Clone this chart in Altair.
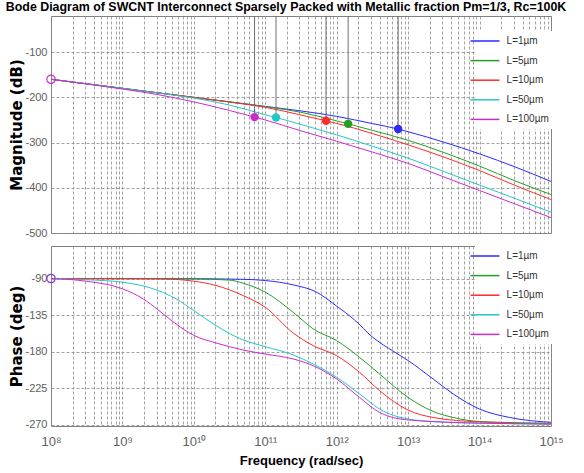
import altair as alt
import pandas as pd

TITLE = "Bode Diagram of SWCNT Interconnect Sparsely Packed with Metallic fraction Pm=1/3, Rc=100K"
series = ["L=1µm", "L=5µm", "L=10µm", "L=50µm", "L=100µm"]
colors = ["#2a2aff", "#23a023", "#ff2b2b", "#25c6c6", "#cc2ccc"]

# ---- Magnitude (dB) vs log10(frequency in rad/s) ----
mag_exp_1 = [8, 9, 10, 11, 11.5, 12, 12.5, 12.86, 13, 13.5, 14, 14.5, 15]
mag_db_1 = [-160, -180, -200, -220, -230, -242, -258, -270, -276, -299, -325, -354, -386]
mag_exp_5 = [8, 9, 10, 10.5, 11, 11.5, 12, 12.16, 12.5, 13, 13.5, 14, 14.5, 15]
mag_db_5 = [-160, -180, -200, -210, -220.5, -233, -252, -258.5, -273, -295, -322, -352, -385, -415]
mag_exp_10 = [8, 9, 10, 10.5, 11, 11.5, 11.85, 12, 12.5, 13, 13.5, 14, 14.5, 15]
mag_db_10 = [-160, -180, -200, -210.5, -222, -239, -251.8, -257.5, -280, -305, -332, -362, -395, -426]
mag_exp_50 = [8, 9, 9.5, 10, 10.5, 11, 11.15, 11.5, 12, 12.5, 13, 13.5, 14, 14.5, 15]
mag_db_50 = [-160, -180, -190.5, -201.5, -217, -238.5, -244.5, -260, -283, -308, -334.5, -364, -394, -424, -454]
mag_exp_100 = [8, 8.5, 9, 9.5, 10, 10.5, 10.85, 11, 11.5, 12, 12.5, 13, 13.5, 14, 14.5, 15]
mag_db_100 = [-160, -170.5, -181.5, -194, -210, -229, -243.6, -250, -274, -297, -321, -346, -376, -406, -436, -466]

# ---- Phase (deg) ----
ph_exp_1 = [8, 10, 10.7, 11, 11.4, 11.7, 12, 12.25, 12.5, 12.8, 13, 13.35, 13.63, 14, 14.42, 15]
ph_deg_1 = [-90, -90.3, -91, -92.5, -98, -106, -124, -141, -162, -180, -191, -213.7, -232, -250.7, -261, -267]
ph_exp_5 = [8, 10, 10.5, 10.69, 11, 11.39, 11.67, 12, 12.32, 12.6, 13, 13.35, 13.63, 14, 15]
ph_deg_5 = [-90, -90.5, -92, -95.8, -106.8, -131.5, -152, -166.5, -187, -207.5, -236.4, -253.6, -261, -266, -268]
ph_exp_10 = [8, 9.5, 10, 10.31, 10.69, 11, 11.39, 11.67, 12, 12.32, 12.6, 13, 13.35, 14, 15]
ph_deg_10 = [-90, -90.3, -93.3, -98.6, -111, -125.4, -157, -172.6, -185, -205.5, -228, -252, -261, -266.5, -269]
ph_exp_50 = [8, 8.5, 9, 9.5, 9.75, 10, 10.31, 10.69, 11, 11.39, 11.67, 12, 12.32, 12.6, 13, 13.35, 14, 15]
ph_deg_50 = [-90, -91.5, -94.5, -104.8, -115, -129.5, -148, -165.6, -173.8, -184, -195.2, -211.7, -232, -250.7, -263, -266, -268, -269]
ph_exp_100 = [8, 8.49, 9, 9.29, 9.5, 9.75, 10, 10.31, 10.69, 11, 11.39, 11.67, 12, 12.32, 12.6, 13, 14, 15]
ph_deg_100 = [-90, -93.3, -102.7, -115, -128.6, -145.9, -160, -169.3, -178, -183, -189, -197.3, -213.7, -236.4, -254.8, -264, -268, -269]

# ---- data-tip markers on magnitude plot ----
mark_series = ["L=100µm", "L=50µm", "L=10µm", "L=5µm", "L=1µm"]
mark_exp = [10.85, 11.15, 11.85, 12.16, 12.86]
mark_db = [-243.6, -244.5, -251.8, -258.5, -270]
mark_colors = ["#cc2ccc", "#25c6c6", "#ff2b2b", "#23a023", "#2a2aff"]

start_exp = 8
start_mag = -160
start_phase = -90

mag_ticks = [-100, -200, -300, -400, -500]
phase_ticks = [-90, -135, -180, -225, -270]
decades = list(range(8, 16))

SANS = "Liberation Sans, Arial, sans-serif"
WIDE = "DejaVu Sans, Verdana, sans-serif"


def build(exps, vals):
    rows = []
    for s, ex, vv in zip(series, exps, vals):
        for i, (e, v) in enumerate(zip(ex, vv)):
            rows.append({"series": s, "freq": 10.0 ** e, "value": v, "i": i})
    return pd.DataFrame(rows)


mag_df = build([mag_exp_1, mag_exp_5, mag_exp_10, mag_exp_50, mag_exp_100],
               [mag_db_1, mag_db_5, mag_db_10, mag_db_50, mag_db_100])
ph_df = build([ph_exp_1, ph_exp_5, ph_exp_10, ph_exp_50, ph_exp_100],
              [ph_deg_1, ph_deg_5, ph_deg_10, ph_deg_50, ph_deg_100])
mk_df = pd.DataFrame({"series": mark_series, "freq": [10.0 ** e for e in mark_exp],
                      "value": mark_db, "color": mark_colors})
st_mag = pd.DataFrame({"freq": [10.0 ** start_exp], "value": [start_mag]})
st_ph = pd.DataFrame({"freq": [10.0 ** start_exp], "value": [start_phase]})

grid_vals = [float(k) * 10.0 ** n for n in range(8, 15) for k in range(1, 10)] + [10.0 ** 15]
sup = {"0": "⁰", "1": "¹", "2": "²", "3": "³", "4": "⁴", "5": "⁵", "6": "⁶", "7": "⁷", "8": "⁸", "9": "⁹"}
expr = "''"
for d in reversed(decades):
    lab = "10" + "".join(sup[c] for c in str(d))
    expr = f"datum.value == {float(10.0 ** d)!r} ? '{lab}' : " + expr

xscale = alt.Scale(type="log", domain=[1e8, 1e15], nice=False)
cscale = alt.Scale(domain=series, range=colors)

x_top = alt.X("freq:Q", scale=xscale,
              axis=alt.Axis(values=grid_vals, labels=False, title=None, ticks=False, domain=False,
                            minExtent=0, maxExtent=0))
x_bot = alt.X("freq:Q", scale=xscale,
              axis=alt.Axis(values=grid_vals, labelExpr=expr, title="Frequency  (rad/sec)",
                            labelFont=SANS, labelFontSize=13, labelColor="#606060",
                            labelPadding=9, labelOverlap=False, labelBound=False, labelFlush=False,
                            titleFont=SANS, titleFontSize=13, titleFontWeight="bold",
                            titlePadding=6, titleColor="#000000", ticks=False, domain=False))

# wide flat line symbol: path spans 3x the nominal symbol box horizontally
LINE_SYMBOL = "M-3,0H3"


def legend(y):
    return alt.Legend(title=None, orient="none", legendX=424, legendY=y,
                      symbolType=LINE_SYMBOL, symbolSize=93, symbolStrokeWidth=1.5,
                      symbolFillColor="transparent",
                      labelFont=SANS, labelFontSize=10, labelColor="#333333",
                      labelOffset=15.6, rowPadding=8.6, padding=4, fillColor="white")


mag_y = alt.Y("value:Q", scale=alt.Scale(domain=[-500, -20], nice=False, zero=False),
              axis=alt.Axis(values=mag_ticks, title="Magnitude (dB)",
                            labelExpr="'-' + format(abs(datum.value), 'd')",
                            labelFont=SANS, labelFontSize=11, labelColor="#606060",
                            labelPadding=4, minExtent=24, maxExtent=24,
                            titleFont=WIDE, titleFontSize=15, titleFontWeight="bold",
                            titlePadding=3, titleColor="#000000", ticks=False, domain=False))
ph_y = alt.Y("value:Q", scale=alt.Scale(domain=[-271.5, -50], nice=False, zero=False),
             axis=alt.Axis(values=phase_ticks, title="Phase (deg)",
                           labelExpr="'-' + format(abs(datum.value), 'd')",
                           labelFont=SANS, labelFontSize=11, labelColor="#606060",
                           labelPadding=4, minExtent=24, maxExtent=24,
                           titleFont=WIDE, titleFontSize=15, titleFontWeight="bold",
                           titlePadding=3, titleColor="#000000", ticks=False, domain=False))

mag_lines = alt.Chart(mag_df).mark_line(strokeWidth=1, interpolate="monotone").encode(
    x=x_top, y=mag_y,
    color=alt.Color("series:N", scale=cscale, sort=series, legend=legend(15)),
    order="i:Q")
rules = alt.Chart(mk_df).mark_rule(color="#707070", strokeWidth=1).encode(
    x="freq:Q", y="value:Q", y2=alt.value(0))
dots = alt.Chart(mk_df).mark_circle(size=70, opacity=1).encode(
    x="freq:Q", y="value:Q", fill=alt.Fill("color:N", scale=None))
ring_top = alt.Chart(st_mag).mark_point(shape="circle", filled=False, size=70, strokeWidth=1.2,
                                         color="#cc2ccc", opacity=1).encode(x="freq:Q", y="value:Q")

top = alt.layer(mag_lines, rules, dots, ring_top).properties(width=500, height=217)

ph_lines = alt.Chart(ph_df).mark_line(strokeWidth=1, interpolate="monotone").encode(
    x=x_bot, y=ph_y,
    color=alt.Color("series:N", scale=cscale, sort=series, legend=legend(0)),
    order="i:Q")
ring_bot = alt.Chart(st_ph).mark_point(shape="circle", filled=False, size=70, strokeWidth=1.2,
                                        color="#8a3ccc", opacity=1).encode(x="freq:Q", y="value:Q")

bottom = alt.layer(ph_lines, ring_bot).properties(width=500, height=180)

chart = alt.vconcat(top, bottom, spacing=6).resolve_scale(color="independent").resolve_legend(
    color="independent").properties(
    title=alt.TitleParams(TITLE, font=SANS, fontSize=12.4, fontWeight="bold", color="#000000",
                          anchor="middle", offset=2),
    padding={"left": 5, "top": 0, "right": 5, "bottom": 0},
    background="white",
).configure_view(stroke="#808080", strokeWidth=1).configure_axis(
    gridColor="#8c8c8c", gridDash=[3, 2], gridWidth=0.8, gridOpacity=1)

chart.save("out.html", embed_options={"renderer": "svg", "actions": False})
